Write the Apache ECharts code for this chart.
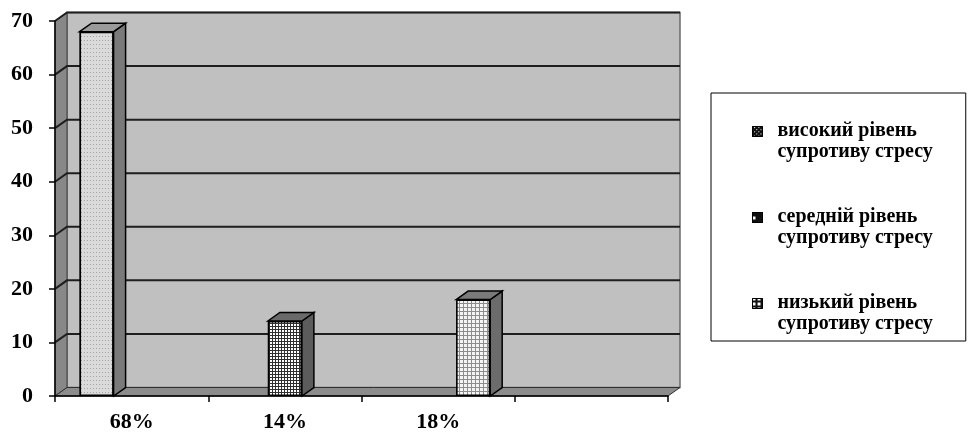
<!DOCTYPE html>
<html>
<head>
<meta charset="utf-8">
<script src="https://cdn.jsdelivr.net/npm/echarts@6/dist/echarts.min.js"></script>
<style>
  html, body { margin: 0; padding: 0; background: #fff; }
  #chart { width: 968px; height: 435px; }
</style>
</head>
<body>
<div id="chart"></div>
<script>
// Categories along the x axis (the last slot is left empty)
const categories = ['68%', '14%', '18%', ''];

// Series names (shown in the legend)
const seriesNames = [
  'високий рівень\nсупротиву стресу',
  'середній рівень\nсупротиву стресу',
  'низький рівень\nсупротиву стресу'
];

// Values per series, one bar each
const highValues = [68, null, null, null];
const midValues  = [null, 14, null, null];
const lowValues  = [null, null, 18, null];

// Value axis ticks
const yTicks = [0, 10, 20, 30, 40, 50, 60, 70];

// ---- presentation ----
const FONT = '"Liberation Serif", "Times New Roman", serif';
const DX = 12, DY = -8.5;          // depth of the pseudo-3D extrusion
const BAR_FRAC = 0.222;            // bar width as a fraction of the category band
const BAR_GAP = 0.03;              // gap between bars of one group (fraction of bar width)
const seriesValues = [highValues, midValues, lowValues];

const faceStyles = [
  { color: '#dadada', decal: { symbol: 'rect', symbolSize: 1, color: '#a4a4a4', backgroundColor: '#dadada', dashArrayX: [1, 2], dashArrayY: [1, 3] }, top: '#9a9a9a', side: '#7a7a7a',
    icon: { symbol: 'rect', symbolSize: 1, color: '#ffffff', backgroundColor: '#111111', dashArrayX: [1, 2], dashArrayY: [1, 2], rotation: Math.PI / 4 } },
  { color: '#8a8a8a', decal: { symbol: 'rect', symbolSize: 1, color: '#ffffff', backgroundColor: '#303030', dashArrayX: [2, 1], dashArrayY: [2, 1] }, top: '#6a6a6a', side: '#5c5c5c',
    icon: { symbol: 'rect', symbolSize: 1, color: '#ffffff', backgroundColor: '#111111', dashArrayX: [3, 7], dashArrayY: [3, 7] } },
  { color: '#d8d8d8', decal: { symbol: 'rect', symbolSize: 1, color: '#f4f4f4', backgroundColor: '#8c8c8c', dashArrayX: [3, 1], dashArrayY: [3, 1] }, top: '#7a7a7a', side: '#6c6c6c',
    icon: { symbol: 'rect', symbolSize: 1, color: '#ffffff', backgroundColor: '#111111', dashArrayX: [3, 2], dashArrayY: [3, 2] } }
];

// Back wall, side wall, floor and gridlines drawn behind the bars
function renderWalls(params, api) {
  const cs = params.coordSys;
  const x0 = cs.x, x1 = cs.x + cs.width;
  const yTop = cs.y, yBot = cs.y + cs.height;
  const children = [];
  children.push({ type: 'rect', shape: { x: x0 + DX, y: yTop + DY, width: cs.width, height: cs.height },
    style: { fill: '#c0c0c0', stroke: '#6a6a6a', lineWidth: 1.5 } });
  children.push({ type: 'polygon', shape: { points: [[x0, yTop], [x0 + DX, yTop + DY], [x0 + DX, yBot + DY], [x0, yBot]] },
    style: { fill: '#888888', stroke: '#404040', lineWidth: 1 } });
  children.push({ type: 'polygon', shape: { points: [[x0, yBot], [x0 + DX, yBot + DY], [x1 + DX, yBot + DY], [x1, yBot]] },
    style: { fill: '#8c8c8c', stroke: '#303030', lineWidth: 1 } });
  yTicks.forEach(function (t) {
    if (t === 0) return;
    const y = api.coord([0, t])[1];
    children.push({ type: 'polyline', shape: { points: [[x0, y], [x0 + DX, y + DY], [x1 + DX, y + DY]] },
      style: { stroke: '#1e1e1e', lineWidth: 2, fill: null } });
  });
  return { type: 'group', children: children };
}

// Top and side faces of each bar, placed like the bar series layout
function makeExtrusion(s) {
  return function (params, api) {
    const i = api.value(0), v = api.value(1);
    const top = api.coord([i, v]);
    const base = api.coord([i, 0]);
    const band = api.size([1, 0])[0];
    const w = band * BAR_FRAC, g = w * BAR_GAP;
    const total = 3 * w + 2 * g;
    const xl = top[0] - total / 2 + s * (w + g);
    const xr = xl + w;
    const st = faceStyles[s];
    return {
      type: 'group',
      children: [
        { type: 'polygon', shape: { points: [[xr, top[1]], [xr + DX, top[1] + DY], [xr + DX, base[1] + DY], [xr, base[1]]] },
          style: { fill: st.side, stroke: '#000', lineWidth: 1.5 } },
        { type: 'polygon', shape: { points: [[xl, top[1]], [xl + DX, top[1] + DY], [xr + DX, top[1] + DY], [xr, top[1]]] },
          style: { fill: st.top, stroke: '#000', lineWidth: 1.5 } }
      ]
    };
  };
}

const series = [];
series.push({
  type: 'custom', name: 'walls', silent: true, z: 0, clip: false,
  renderItem: renderWalls, encode: { x: 0, y: 1 }, data: [[0, 0]]
});
seriesValues.forEach(function (vals, s) {
  series.push({
    type: 'bar', name: seriesNames[s], data: vals,
    barWidth: (BAR_FRAC * 100) + '%', barGap: (BAR_GAP * 100) + '%',
    itemStyle: { color: faceStyles[s].color, decal: faceStyles[s].decal, borderColor: '#000', borderWidth: 1.5 },
    z: 2
  });
});
seriesValues.forEach(function (vals, s) {
  const pts = [];
  vals.forEach(function (v, i) { if (v != null) pts.push([i, v]); });
  series.push({
    type: 'custom', name: seriesNames[s], silent: true, z: 2, clip: false,
    renderItem: makeExtrusion(s), encode: { x: 0, y: 1 }, data: pts
  });
});

const chart = echarts.init(document.getElementById('chart'), null, { renderer: 'canvas' });
chart.setOption({
  animation: false,
  backgroundColor: '#ffffff',
  grid: { left: 55, right: 300, top: 21, bottom: 39, containLabel: false },
  xAxis: {
    type: 'category', data: categories, z: 3,
    axisLine: { lineStyle: { color: '#000', width: 1.5 } },
    axisTick: { show: true, length: 6, alignWithLabel: false, lineStyle: { color: '#000', width: 1.5 } },
    axisLabel: { margin: 15, fontFamily: FONT, fontWeight: 'bold', fontSize: 22, color: '#000' },
    splitLine: { show: false }
  },
  yAxis: {
    type: 'value', min: 0, max: 70, interval: 10, z: 3,
    axisLine: { show: true, lineStyle: { color: '#000', width: 1.5 } },
    axisTick: { show: true, length: 6, lineStyle: { color: '#000', width: 1.5 } },
    axisLabel: { margin: 22, fontFamily: FONT, fontWeight: 'bold', fontSize: 22, color: '#000' },
    splitLine: { show: false }
  },
  legend: {
    data: seriesNames.map(function (n, s) {
      return { name: n, itemStyle: { color: '#111111', decal: faceStyles[s].icon, borderColor: '#000', borderWidth: 1 } };
    }),
    orient: 'vertical', left: 711, top: 93,
    padding: [27, 33, 6, 41],
    itemGap: 43, itemWidth: 20, itemHeight: 42,
    icon: 'path://M0,6L10,6L10,16L0,16Z M0,0 M20,42',
    borderColor: '#000', borderWidth: 1,
    selectedMode: false,
    textStyle: { fontFamily: FONT, fontWeight: 'bold', fontSize: 20, lineHeight: 21, color: '#000' }
  },
  series: series
});
</script>
</body>
</html>
